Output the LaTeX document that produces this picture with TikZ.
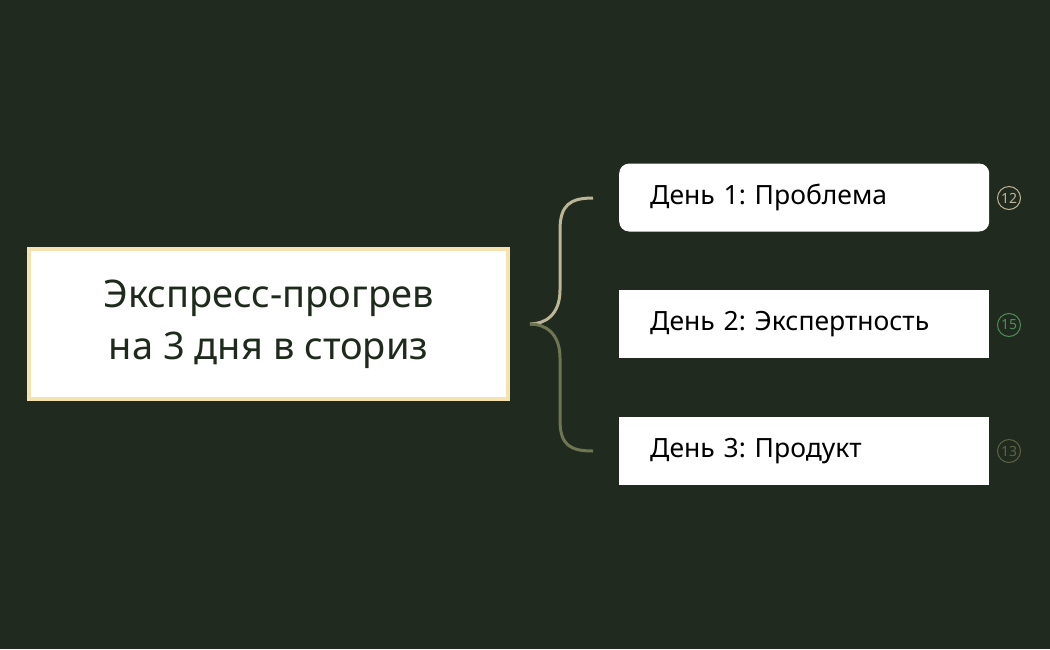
\documentclass[tikz,border=0pt]{standalone}
\usepackage{fontspec}
\setmainfont{Noto Sans}
\frenchspacing
\definecolor{bg}{HTML}{212A1E}
\definecolor{cream}{HTML}{F4E3B0}
\definecolor{tan}{HTML}{BDB598}
\definecolor{olive}{HTML}{6E7552}
\definecolor{cgreen}{HTML}{4E8E5A}
\definecolor{cdark}{HTML}{5E6244}
\definecolor{ink}{HTML}{1E2A1C}
\begin{document}
\begin{tikzpicture}[x=1pt,y=-1pt,
  day/.style={fill=white,minimum width=370pt,minimum height=68pt,anchor=west,text width=370pt,align=left,inner sep=0pt,font=\fontsize{26.5}{30}\selectfont,text=black},
  num/.style={circle,draw,line width=1pt,minimum size=23pt,inner sep=0pt,font=\fontsize{14}{15}\selectfont}]
\fill[bg] (0,0) rectangle (1050,649);
\useasboundingbox (0,0) rectangle (1050,649);
\node[fill=white,draw=cream,line width=4pt,minimum width=479pt,minimum height=150pt,align=center,text=ink,font=\fontsize{38}{52}\selectfont] (main) at (268.5,324) {Экспресс-прогрев\\на 3 дня в сториз};
\node[day,rounded corners=10pt] (d1) at (619,197.5) {\hspace*{31pt}День 1: Проблема};
\node[day] (d2) at (619,324) {\hspace*{31pt}День 2: Экспертность};
\node[day] (d3) at (619,451) {\hspace*{31pt}День 3: Продукт};
\node[num,draw=tan,text=tan] (n1) at (1009,198) {12};
\node[num,draw=cgreen,text=cgreen] (n2) at (1009,325) {15};
\node[num,draw=cdark,text=cdark] (n3) at (1009,451) {13};
\coordinate (bt) at (593,198);
\coordinate (bm) at (530,324);
\coordinate (bb) at (593,451);
\draw[tan,line width=3pt] (bt) .. controls (570,198) and (560,205) .. (560,230) -- (560,290) .. controls (560,315) and (545,324) .. (bm);
\draw[olive,line width=3pt] (bm) .. controls (545,324) and (560,333) .. (560,358) -- (560,420) .. controls (560,445) and (570,451) .. (bb);
\end{tikzpicture}
\end{document}
